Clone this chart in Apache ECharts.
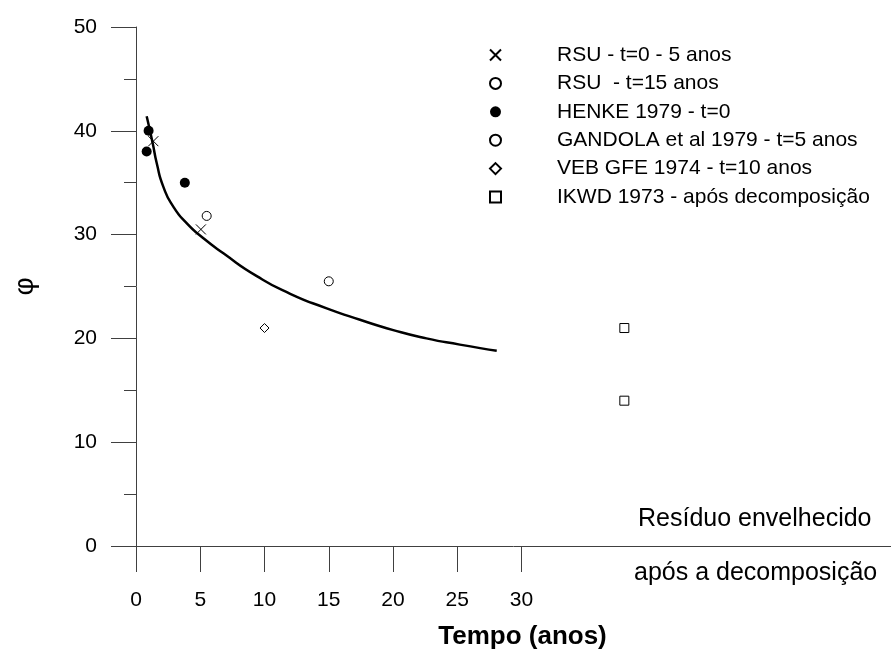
<!DOCTYPE html>
<html>
<head>
<meta charset="utf-8">
<script src="https://cdn.jsdelivr.net/npm/echarts@6/dist/echarts.min.js"></script>
<style>
  html, body { margin: 0; padding: 0; background: #fff; }
  #main { width: 891px; height: 655px; }
</style>
</head>
<body>
<div id="main"></div>
<script>
// rótulos dos eixos
const xTicks = [0, 5, 10, 15, 20, 25, 30];
const yTicks = [0, 10, 20, 30, 40, 50];

// pontos medidos [tempo, phi]
const rsu05 = [[1.35, 39.0], [5.05, 30.5]];
const rsu15 = [[15.0, 25.5]];
const henke = [[0.98, 40.0], [0.83, 38.0], [3.8, 35.0]];
const gandola = [[5.5, 31.8]];
const vebGfe = [[10.0, 21.0]];
const ikwd = [[38.0, 21.0], [38.0, 14.0]];

// curva
const curve = [
  [0.83, 41.4], [1.30, 38.8], [1.61, 36.9], [2.13, 34.6],
  [2.9, 32.7], [3.94, 31.1], [5.1, 29.8], [6.8, 28.2], [9.4, 26.0],
  [12.0, 24.3], [14.84, 22.9], [17.43, 21.8], [20.02, 20.8], [22.6, 20.0],
  [25.2, 19.4], [28.07, 18.8]
];

const FONT = '"Liberation Sans", Arial, sans-serif';
const crossPath = 'path://M0,0L10,10M10,0L0,10';

let chart = echarts.init(document.getElementById("main"));

function pts(name, data, symbol, size, filled) {
  return {
    name: name,
    type: "scatter",
    data: data,
    symbol: symbol,
    symbolSize: size,
    itemStyle: filled
      ? { color: "#000", opacity: 1 }
      : { color: "#fff", borderColor: "#000", borderWidth: 1, opacity: 1 },
    emphasis: { disabled: true },
    z: 3,
  };
}

chart.setOption({
  backgroundColor: "#fff",
  animation: false,
  textStyle: { fontFamily: FONT },
  grid: { left: 136, right: 0, top: 27, bottom: 108, containLabel: false },
  legend: {
    orient: "vertical",
    left: 484,
    top: 39,
    itemWidth: 11,
    itemHeight: 11,
    itemGap: 6.4,
    selectedMode: false,
    data: [
      "RSU - t=0 - 5 anos",
      "RSU  - t=15 anos",
      "HENKE 1979 - t=0",
      "GANDOLA et al 1979 - t=5 anos",
      "VEB GFE 1974 - t=10 anos",
      "IKWD 1973 - após decomposição",
    ],
    textStyle: {
      fontFamily: FONT,
      fontSize: 21,
      lineHeight: 22,
      color: "#000",
      padding: [0, 0, 0, 51],
    },
  },
  xAxis: {
    type: "value",
    min: 0,
    max: 58.75,
    interval: 5,
    name: "Tempo (anos)",
    nameLocation: "middle",
    nameGap: 78,
    nameTextStyle: {
      fontFamily: FONT,
      fontSize: 26,
      fontWeight: "bold",
      color: "#000",
      padding: [0, 0, 0, 18],
    },
    axisLine: { lineStyle: { color: "#404040", width: 1 } },
    axisTick: { length: 26, customValues: xTicks, lineStyle: { color: "#404040" } },
    axisLabel: {
      customValues: xTicks,
      fontSize: 21,
      color: "#000",
      margin: 44,
    },
    splitLine: { show: false },
  },
  yAxis: {
    type: "value",
    min: 0,
    max: 50,
    interval: 10,
    name: "φ",
    nameLocation: "middle",
    nameGap: 97,
    nameRotate: 90,
    nameTextStyle: { fontFamily: FONT, fontSize: 28, color: "#000" },
    axisLine: { show: true, lineStyle: { color: "#404040", width: 1 } },
    axisTick: { show: true, length: 25, lineStyle: { color: "#404040" } },
    minorTick: { show: true, splitNumber: 2, length: 12, lineStyle: { color: "#404040" } },
    axisLabel: {
      customValues: yTicks,
      fontSize: 21,
      color: "#000",
      margin: 39,
    },
    splitLine: { show: false },
  },
  graphic: [
    {
      type: "text",
      left: 638,
      top: 507,
      style: { text: "Resíduo envelhecido", font: "25px " + FONT, fill: "#000" },
    },
    {
      type: "text",
      left: 634,
      top: 561,
      style: { text: "após a decomposição", font: "25px " + FONT, fill: "#000" },
    },
  ],
  series: [
    pts("RSU - t=0 - 5 anos", rsu05, crossPath, 10, false),
    pts("RSU  - t=15 anos", rsu15, "circle", 9, false),
    pts("HENKE 1979 - t=0", henke, "circle", 10, true),
    pts("GANDOLA et al 1979 - t=5 anos", gandola, "circle", 9, false),
    pts("VEB GFE 1974 - t=10 anos", vebGfe, "diamond", 9, false),
    pts("IKWD 1973 - após decomposição", ikwd, "rect", 9, false),
    {
      name: "curva",
      type: "line",
      data: curve,
      smooth: 0.6,
      showSymbol: false,
      lineStyle: { color: "#000", width: 2.5 },
      emphasis: { disabled: true },
      z: 2,
    },
  ],
});
</script>
</body>
</html>
